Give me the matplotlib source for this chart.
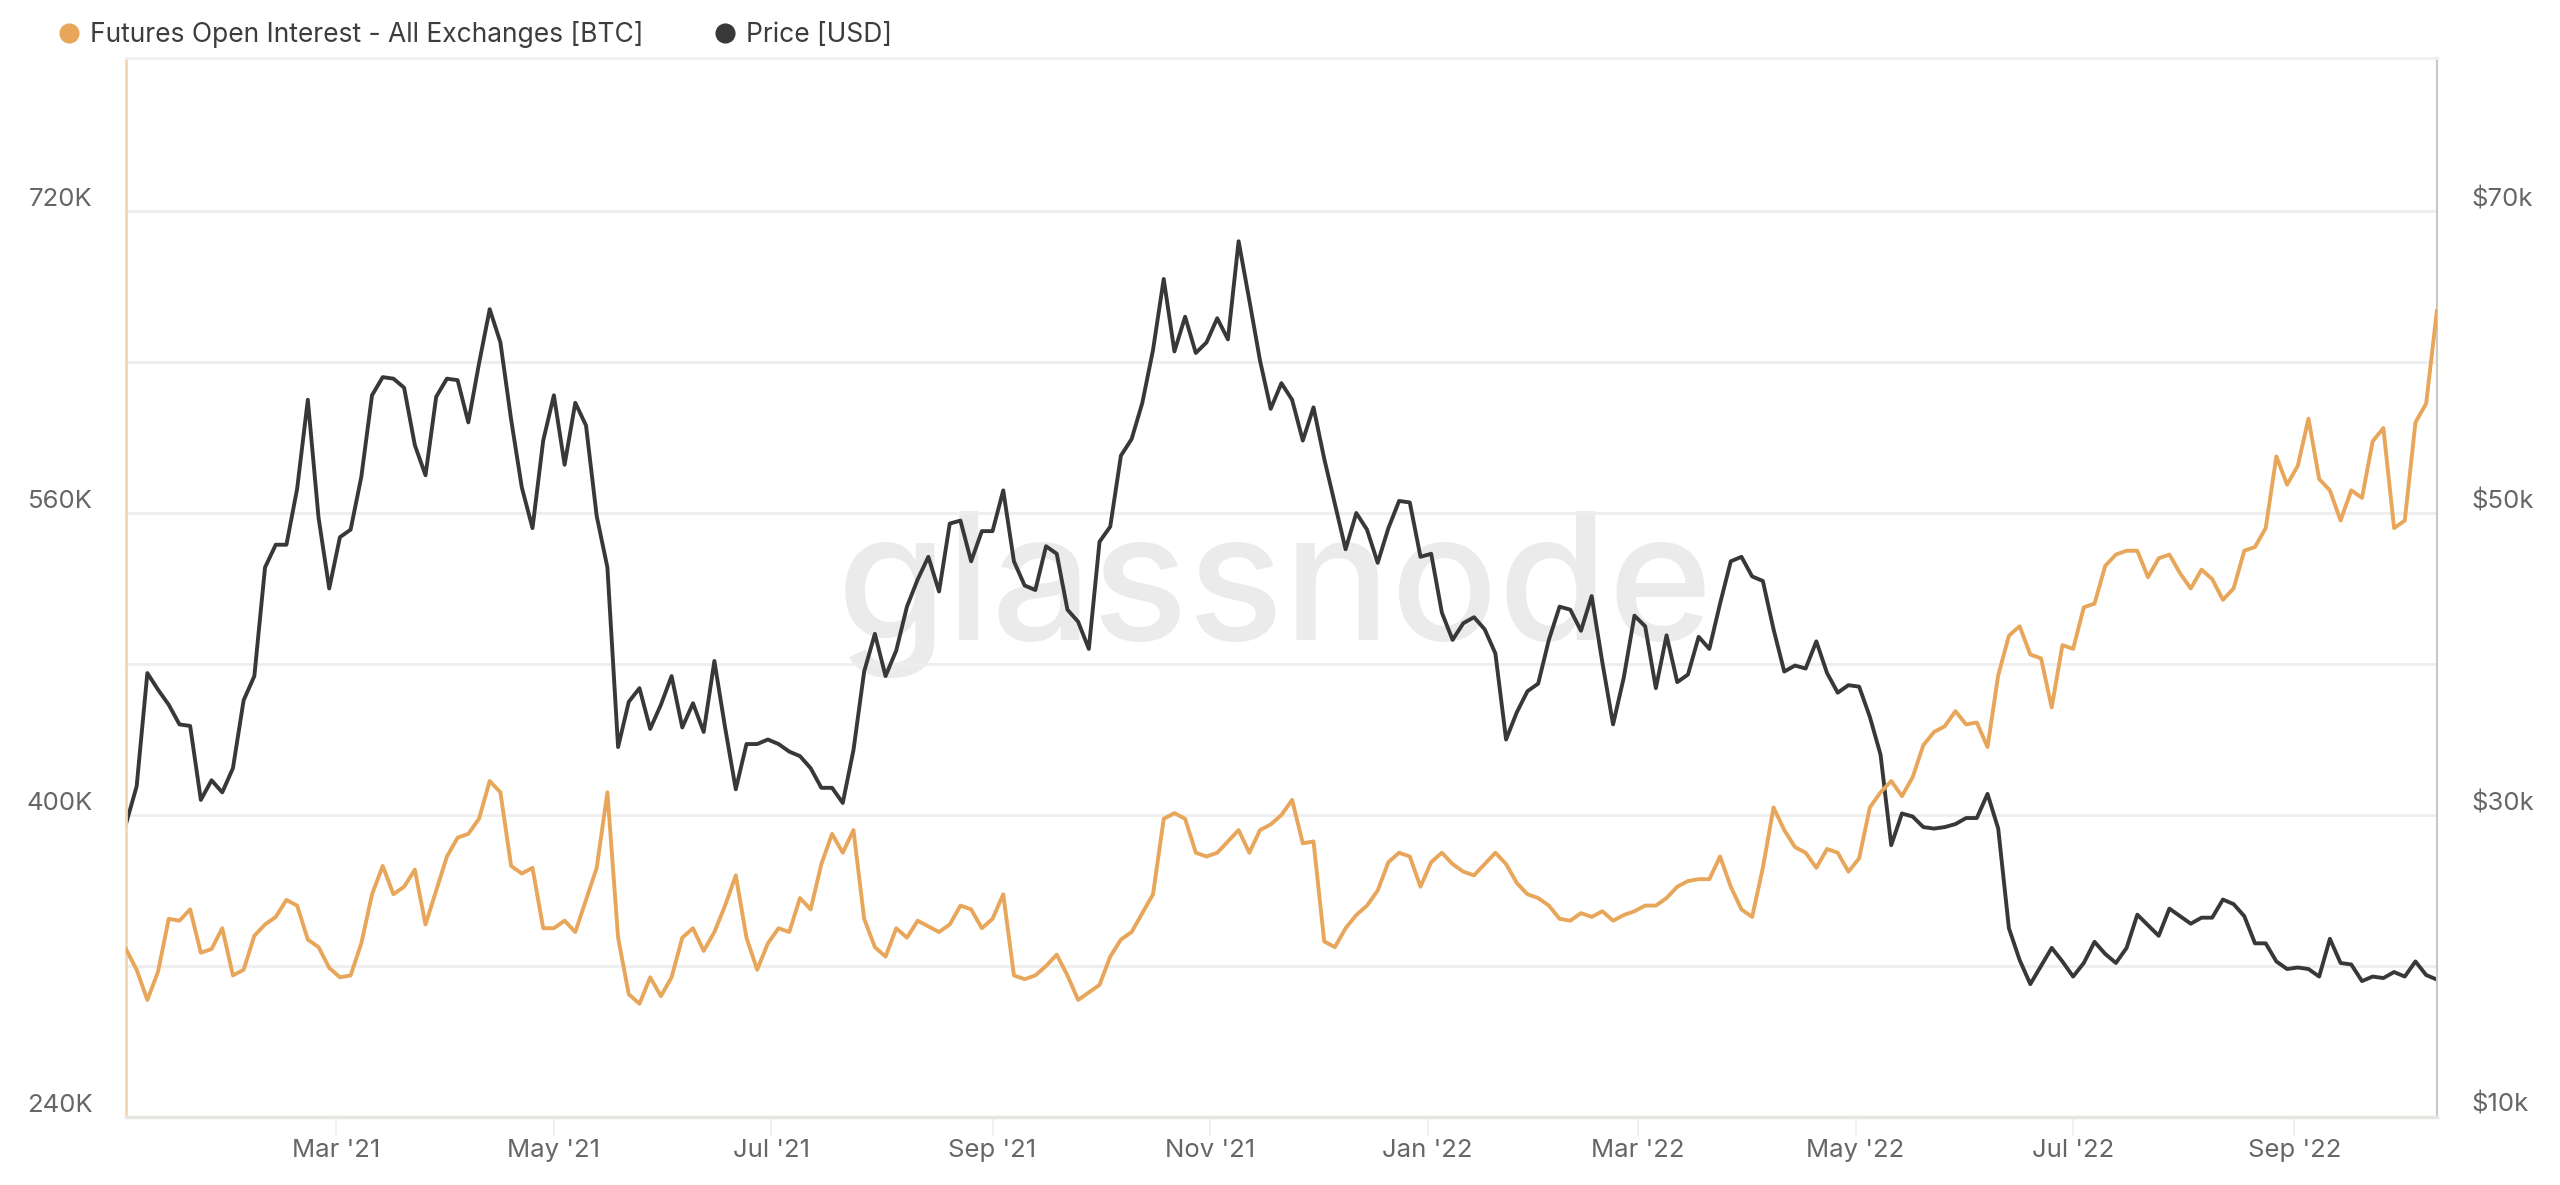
import numpy as np
import pandas as pd
import matplotlib
matplotlib.use("Agg")
import matplotlib.pyplot as plt
from matplotlib.lines import Line2D

# one value every 3 days starting 2021-01-01
# futures open interest, thousand BTC
oi_2021 = [
    329, 318, 302, 317, 345, 344, 350, 327, 329, 340, 315,        # jan
    318, 336, 342, 346, 355, 352, 334, 330, 319,                  # feb
    314, 315, 332, 358, 373, 358, 362, 371, 342, 360,             # mar
    378, 388, 390, 398, 418, 412, 373, 369, 372, 340,             # apr
    340, 344, 338, 355, 372, 412, 335, 305, 300, 314, 304,        # may
    314, 335, 340, 328, 338, 352, 368, 335, 318, 332,             # jun
    340, 338, 356, 350, 374, 390, 380, 392, 345, 330,             # jul
    325, 340, 335, 344, 341, 338, 342, 352, 350, 340,             # aug
    345, 358, 315, 313, 315, 320, 326, 315, 302, 306,             # sep
    310, 325, 334, 338, 348, 358, 398, 401, 398, 380, 378,        # oct
    380, 386, 392, 380, 392, 395, 400, 408, 385, 386,             # nov
    333, 330, 340, 347, 352, 360, 375, 380, 378, 362,             # dec
]
oi_2022 = [
    375, 380, 374, 370, 368, 374, 380, 374, 364, 358,             # jan
    356, 352, 345, 344, 348, 346, 349, 344, 347, 349,             # feb
    352, 352, 356, 362, 365, 366, 366, 378, 362, 350,             # mar
    346, 372, 404, 392, 383, 380, 372, 382, 380, 370,             # apr
    377, 404, 412, 418, 410, 420, 437, 444, 447, 455,             # may
    448, 449, 436, 474, 495, 500, 485, 483, 457, 490,             # jun
    488, 510, 512, 532, 538, 540, 540, 526, 536, 538, 528,        # jul
    520, 530, 525, 514, 520, 540, 542, 552, 590, 575,             # aug
    585, 610, 578, 572, 556, 572, 568, 598, 605, 552,             # sep
    556, 608, 618, 667,                                           # oct
]

# BTC price, thousand USD
price_2021 = [
    29.4, 31.9, 39.4, 38.3, 37.3, 36.0, 35.9, 31.0, 32.3, 31.5, 33.1,
    37.6, 39.2, 46.4, 47.9, 47.9, 51.6, 57.5, 49.7, 45.0,
    48.4, 48.9, 52.4, 57.8, 59.0, 58.9, 58.3, 54.5, 52.5, 57.7,
    58.9, 58.8, 56.0, 59.9, 63.5, 61.3, 56.2, 51.7, 49.0, 54.8,
    57.8, 53.2, 57.3, 55.8, 49.8, 46.4, 34.5, 37.5, 38.4, 35.7, 37.3,
    39.2, 35.8, 37.4, 35.5, 40.2, 35.8, 31.7, 34.7, 34.7, 35.0,
    34.7, 34.2, 33.9, 33.1, 31.8, 31.8, 30.8, 34.3, 39.5, 42.0,
    39.2, 40.9, 43.8, 45.6, 47.1, 44.8, 49.3, 49.5, 46.8, 48.8,
    48.8, 51.5, 46.8, 45.2, 44.9, 47.8, 47.3, 43.6, 42.8, 41.0,
    48.1, 49.1, 53.8, 54.9, 57.3, 60.8, 65.5, 60.7, 63.0, 60.6, 61.3,
    62.9, 61.5, 68.0, 64.1, 60.1, 56.9, 58.6, 57.5, 54.8, 57.0,
    53.6, 50.6, 47.6, 50.0, 48.9, 46.7, 49.0, 50.8, 50.7, 47.1,
]
price_2022 = [
    47.3, 43.4, 41.6, 42.7, 43.1, 42.3, 40.7, 35.0, 36.8, 38.2,
    38.7, 41.6, 43.8, 43.6, 42.2, 44.5, 40.1, 36.0, 39.1, 43.2,
    42.5, 38.4, 41.9, 38.8, 39.3, 41.8, 41.0, 44.0, 46.8, 47.1,
    45.8, 45.5, 42.3, 39.5, 39.9, 39.7, 41.5, 39.4, 38.1, 38.6,
    38.5, 36.5, 34.0, 28.0, 30.1, 29.9, 29.2, 29.1, 29.2, 29.4,
    29.8, 29.8, 31.4, 29.1, 22.5, 20.4, 18.8, 20.0, 21.2, 20.3,
    19.3, 20.2, 21.6, 20.8, 20.2, 21.2, 23.4, 22.7, 22.0, 23.8, 23.3,
    22.8, 23.2, 23.2, 24.4, 24.1, 23.3, 21.5, 21.5, 20.3, 19.8,
    19.9, 19.8, 19.3, 21.8, 20.2, 20.1, 19.0, 19.3, 19.2, 19.6,
    19.3, 20.3, 19.4, 19.1,
]

start_date = "2021-01-01"
end_date = "2022-10-11"

month_ticks = ["2021-03-01", "2021-05-01", "2021-07-01", "2021-09-01", "2021-11-01",
               "2022-01-01", "2022-03-01", "2022-05-01", "2022-07-01", "2022-09-01"]
month_labels = ["Mar '21", "May '21", "Jul '21", "Sep '21", "Nov '21",
                "Jan '22", "Mar '22", "May '22", "Jul '22", "Sep '22"]

oi_ticks = [240, 400, 560, 720]
oi_labels = ["240K", "400K", "560K", "720K"]
price_grid = [20, 30, 40, 50, 60, 70]
price_ticks = [10, 30, 50, 70]
price_labels = ["$10k", "$30k", "$50k", "$70k"]

ORANGE = "#e8a65a"
DARK = "#383838"
TXT = "#666666"
FS = 18.5

oi = np.array(oi_2021 + oi_2022)
price = np.array(price_2021 + price_2022)
dates = pd.date_range(start_date, periods=len(oi), freq="3D")

plt.rcParams["font.family"] = ["Inter", "DejaVu Sans"]

fig = plt.figure(figsize=(25.6, 11.85), dpi=100)
fig.patch.set_facecolor("white")

# price axis sits underneath so the open interest line is drawn on top
ax_p = fig.add_axes([0.0492, 0.0574, 0.9027, 0.8937])
ax = ax_p.twinx()
ax.set_zorder(ax_p.get_zorder() + 1)
ax.patch.set_visible(False)

ax_p.text(0.497, 0.493, "glassnode", transform=ax_p.transAxes, fontsize=128,
          color="#ebebeb", ha="center", va="center", fontweight="medium", zorder=0)

ax_p.plot(dates, price, color=DARK, lw=2.8, zorder=2)
ax.plot(dates, oi, color=ORANGE, lw=2.8, zorder=3)

# price on the right, linear 10k..80k
ax_p.set_ylim(10, 80.14)
ax_p.set_yticks(price_grid, minor=True)
ax_p.set_yticks(price_ticks)
ax_p.set_yticklabels(price_labels)
ax_p.yaxis.tick_right()
ax_p.grid(True, which="both", axis="y", color="#eeeeee", lw=2)
ax_p.tick_params(axis="y", which="both", length=0, pad=25, labelsize=FS, labelcolor=TXT)
for lbl in ax_p.get_yticklabels():
    lbl.set_verticalalignment("bottom")

# open interest on the left
ax.set_ylim(240, 801.1)
ax.yaxis.tick_left()
ax.set_yticks(oi_ticks)
ax.set_yticklabels(oi_labels)
ax.tick_params(axis="y", length=0, pad=24, labelsize=FS, labelcolor=TXT)
for lbl in ax.get_yticklabels():
    lbl.set_verticalalignment("bottom")

ax_p.set_xlim(pd.Timestamp(start_date), pd.Timestamp(end_date))
ax_p.set_xticks(pd.to_datetime(month_ticks))
ax_p.set_xticklabels(month_labels)
ax_p.tick_params(axis="x", length=14, width=1.2, color="#eeeeee", pad=2,
                 labelsize=FS, labelcolor=TXT)

for a in (ax, ax_p):
    for s in a.spines.values():
        s.set_visible(False)
ax.spines["left"].set_visible(True)
ax.spines["left"].set_color("#f2d6b3")
ax.spines["left"].set_linewidth(2)
ax.spines["right"].set_visible(True)
ax.spines["right"].set_color("#cfc6bd")
ax.spines["right"].set_linewidth(1.5)
ax.spines["top"].set_visible(True)
ax.spines["top"].set_color("#efefef")
ax.spines["top"].set_linewidth(2)
ax.spines["bottom"].set_visible(True)
ax.spines["bottom"].set_color("#e8e6e3")
ax.spines["bottom"].set_linewidth(2.5)

handles = [
    Line2D([], [], marker="o", ls="", color=ORANGE, markersize=13.5),
    Line2D([], [], marker="o", ls="", color=DARK, markersize=13.5),
]
fig.legend(handles, ["Futures Open Interest - All Exchanges [BTC]", "Price [USD]"],
           loc="center left", bbox_to_anchor=(0.0229, 0.9705), ncol=2, frameon=False,
           fontsize=19, handlelength=0.8, handletextpad=0.38, columnspacing=2.7,
           borderpad=0, borderaxespad=0, labelcolor="#3d3d3d")

fig.savefig("out.png", dpi=100, facecolor="white")
